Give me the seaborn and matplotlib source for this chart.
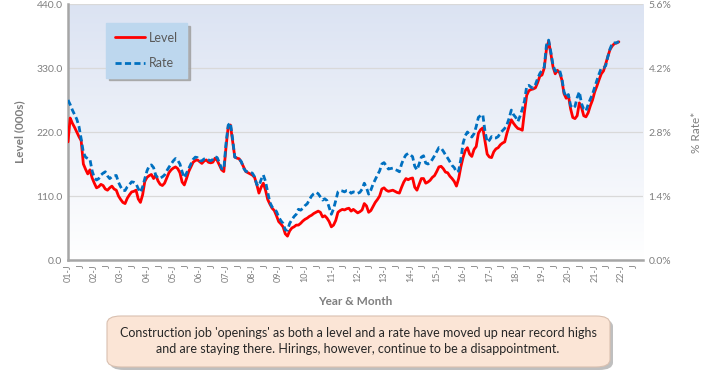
import numpy as np
import pandas as pd
import seaborn as sns
import matplotlib.pyplot as plt
from matplotlib.patches import FancyBboxPatch

# monthly job openings in construction, Jan 2001 .. Dec 2021
level = [
    203, 244, 235, 228, 220, 212, 205, 165, 156, 148, 155, 141,   # 2001
    132, 124, 126, 130, 128, 122, 120, 124, 127, 122, 120, 110,   # 2002
    104, 99, 97, 106, 112, 117, 118, 120, 105, 99, 112, 135,      # 2003
    142, 145, 147, 140, 146, 136, 130, 128, 132, 141, 150, 155,   # 2004
    158, 160, 157, 150, 134, 129, 140, 152, 160, 168, 171, 172,   # 2005
    169, 166, 170, 172, 168, 167, 168, 175, 171, 163, 155, 152,   # 2006
    194, 229, 232, 205, 177, 175, 174, 168, 160, 152, 150, 148,   # 2007
    146, 142, 130, 115, 125, 132, 120, 104, 96, 89, 85, 76,       # 2008
    66, 62, 57, 45, 41, 50, 55, 57, 60, 60, 63, 67,               # 2009
    70, 72, 75, 77, 80, 82, 84, 82, 74, 76, 72, 66,               # 2010
    57, 60, 68, 82, 85, 87, 86, 88, 89, 84, 87, 84,               # 2011
    81, 83, 86, 97, 93, 82, 85, 92, 99, 104, 110, 122,            # 2012
    124, 120, 118, 119, 120, 118, 116, 115, 125, 134, 140, 138,   # 2013
    140, 141, 125, 120, 130, 140, 140, 132, 134, 137, 142, 145,   # 2014
    152, 160, 161, 157, 151, 150, 144, 140, 135, 127, 140, 160,   # 2015
    176, 188, 193, 182, 178, 190, 195, 218, 224, 227, 205, 182,   # 2016
    177, 176, 186, 191, 193, 198, 201, 203, 218, 230, 241, 235,   # 2017
    230, 226, 225, 223, 255, 283, 291, 293, 294, 296, 305, 316,   # 2018
    318, 330, 362, 376, 355, 332, 320, 326, 322, 310, 286, 278,   # 2019
    283, 260, 245, 243, 248, 270, 262, 248, 246, 253, 265, 275,   # 2020
    289, 299, 310, 320, 325, 337, 350, 362, 368, 372, 373, 375,   # 2021
]
rate = [
    3.50, 3.40, 3.28, 3.18, 3.08, 2.92, 2.65, 2.35, 2.25, 2.22, 2.20, 1.95,
    1.80, 1.75, 1.78, 1.86, 1.90, 1.93, 1.84, 1.78, 1.82, 1.84, 1.85, 1.70,
    1.60, 1.52, 1.52, 1.60, 1.65, 1.71, 1.70, 1.67, 1.56, 1.48, 1.60, 1.78,
    1.95, 2.06, 2.08, 2.02, 1.85, 1.79, 1.79, 1.82, 1.86, 1.95, 2.03, 2.10,
    2.17, 2.22, 2.18, 2.10, 1.93, 1.80, 1.90, 2.00, 2.10, 2.20, 2.25, 2.24,
    2.17, 2.17, 2.21, 2.22, 2.19, 2.17, 2.20, 2.26, 2.24, 2.12, 2.00, 1.98,
    2.55, 2.95, 3.00, 2.65, 2.25, 2.23, 2.21, 2.15, 2.01, 1.94, 1.93, 1.92,
    1.90, 1.82, 1.65, 1.62, 1.76, 1.86, 1.72, 1.48, 1.26, 1.16, 1.11, 1.06,
    0.94, 0.86, 0.80, 0.66, 0.65, 0.80, 0.88, 0.95, 1.00, 1.11, 1.09, 1.13,
    1.19, 1.23, 1.32, 1.40, 1.45, 1.48, 1.45, 1.38, 1.31, 1.34, 1.30, 1.15,
    1.00, 1.12, 1.30, 1.49, 1.52, 1.51, 1.49, 1.52, 1.52, 1.46, 1.49, 1.48,
    1.46, 1.48, 1.55, 1.68, 1.58, 1.44, 1.53, 1.66, 1.76, 1.86, 1.95, 2.10,
    2.13, 2.06, 1.99, 2.00, 2.01, 1.98, 1.96, 1.93, 2.10, 2.22, 2.30, 2.33,
    2.30, 2.26, 2.05, 1.97, 2.10, 2.25, 2.28, 2.12, 2.10, 2.13, 2.20, 2.28,
    2.37, 2.46, 2.45, 2.38, 2.30, 2.23, 2.15, 2.07, 2.02, 1.92, 1.95, 2.20,
    2.55, 2.72, 2.80, 2.74, 2.69, 2.76, 2.92, 3.12, 3.16, 3.18, 2.82, 2.58,
    2.62, 2.70, 2.67, 2.67, 2.70, 2.78, 2.83, 2.88, 2.96, 3.10, 3.28, 3.18,
    3.12, 3.03, 3.15, 3.30, 3.48, 3.80, 3.82, 3.78, 3.76, 3.84, 3.97, 4.08,
    4.15, 4.22, 4.70, 4.81, 4.55, 4.26, 4.13, 4.15, 4.15, 3.98, 3.68, 3.56,
    3.62, 3.38, 3.32, 3.36, 3.55, 3.68, 3.42, 3.30, 3.26, 3.40, 3.52, 3.63,
    3.78, 3.93, 4.07, 4.20, 4.20, 4.25, 4.45, 4.62, 4.74, 4.75, 4.75, 4.78,
]
years = list(range(2001, 2023))
tick_labels = []
for y in years:
    tick_labels += [f"{y % 100:02d}-J", "J"]

df = pd.DataFrame({"month": np.arange(len(level)), "level": level, "rate": rate})

sns.set_style("white")
plt.rcParams["font.family"] = ["Lato", "DejaVu Sans"]
grey = "#7f7f7f"

fig = plt.figure(figsize=(7.01, 3.72), dpi=100)
ax = fig.add_axes([68 / 701, 1 - 260 / 372, (643 - 68) / 701, 256 / 372])
ax2 = ax.twinx()

# gradient background of plot area
grad = np.linspace(0, 1, 256).reshape(-1, 1)
top = np.array([0.86, 0.89, 0.95])
bot = np.array([1.0, 1.0, 1.0])
img = top * (1 - grad[..., None]) + bot * grad[..., None]
ax.imshow(img, extent=[0, 1, 0, 1], transform=ax.transAxes, aspect="auto", zorder=-5)

ax.set_xlim(0, 262)
ax.set_ylim(0, 440)
ax2.set_ylim(0, 5.6)
ax.set_yticks([0, 110, 220, 330, 440])
ax.set_yticklabels([f"{v:.1f}" for v in [0, 110, 220, 330, 440]])
ax2.set_yticks([0, 1.4, 2.8, 4.2, 5.6])
ax2.set_yticklabels([f"{v:.1f}%" for v in [0, 1.4, 2.8, 4.2, 5.6]])
ax.grid(axis="y", color="#d9d9d9", lw=0.9)
ax.set_axisbelow(True)

sns.lineplot(data=df, x="month", y="level", ax=ax, color="#ff0000", lw=2.0, label="Level", legend=False, zorder=3)
sns.lineplot(data=df, x="month", y="rate", ax=ax2, color="#0070c0", lw=2.0, label="Rate", legend=False, zorder=4)
ax2.lines[0].set_dashes([2.2, 1.2])

ax.set_xticks(np.arange(0, 6 * len(tick_labels), 6))
ax.set_xticklabels(tick_labels, rotation=90, fontsize=6.5, color=grey)
ax.tick_params(axis="x", length=0, pad=3)
ax.tick_params(axis="y", length=0, labelsize=7.5, labelcolor=grey, pad=4)
ax2.tick_params(axis="y", length=0, labelsize=7.5, labelcolor=grey, pad=4)

for a in (ax, ax2):
    for s in ("top", "right"):
        a.spines[s].set_visible(False)
ax2.spines["left"].set_visible(False)
ax2.spines["bottom"].set_visible(False)
ax.spines["left"].set_color("#a6a6a6")
ax.spines["left"].set_linewidth(1.8)
ax.spines["bottom"].set_color("#a6a6a6")
ax.spines["bottom"].set_linewidth(1.8)

ax.set_xlabel("Year & Month", fontsize=8.5, fontweight="bold", color=grey, labelpad=10)
ax.set_ylabel("Level (000s)", fontsize=8.5, fontweight="bold", color=grey, labelpad=8)
ax2.set_ylabel("% Rate*", fontsize=8.5, color=grey, labelpad=14)

# legend with shadow
h1, l1 = ax.get_legend_handles_labels()
h2, l2 = ax2.get_legend_handles_labels()
leg = ax2.legend(h1 + h2, l1 + l2, loc="upper left", bbox_to_anchor=(0.056, 0.95),
                 frameon=True, fancybox=False, shadow={"color": "#a0a0a0", "alpha": 0.8},
                 facecolor="#bdd7ee", edgecolor="#bdd7ee", framealpha=1,
                 fontsize=9, labelspacing=1.05, handlelength=2.4, borderpad=0.7, handletextpad=0.3)
for t in leg.get_texts():
    t.set_color("#595959")

# annotation box
shadow = FancyBboxPatch((110 / 701, 1 - 370 / 372), 503 / 701, 51 / 372, transform=fig.transFigure,
                        boxstyle="round,pad=0,rounding_size=0.02", fc="#bfbfbf", ec="none", zorder=1)
box = FancyBboxPatch((107 / 701, 1 - 367 / 372), 503 / 701, 51 / 372, transform=fig.transFigure,
                     boxstyle="round,pad=0,rounding_size=0.02", fc="#fbe5d6", ec="#d9c0b0", lw=0.8, zorder=2)
fig.patches.extend([shadow, box])
fig.text(358 / 701, 1 - 341 / 372,
         "Construction job 'openings' as both a level and a rate have moved up near record highs\n"
         "and are staying there. Hirings, however, continue to be a disappointment.",
         ha="center", va="center", fontsize=9, color="#262626", linespacing=1.45, zorder=3)

fig.savefig("out.png", dpi=100)
